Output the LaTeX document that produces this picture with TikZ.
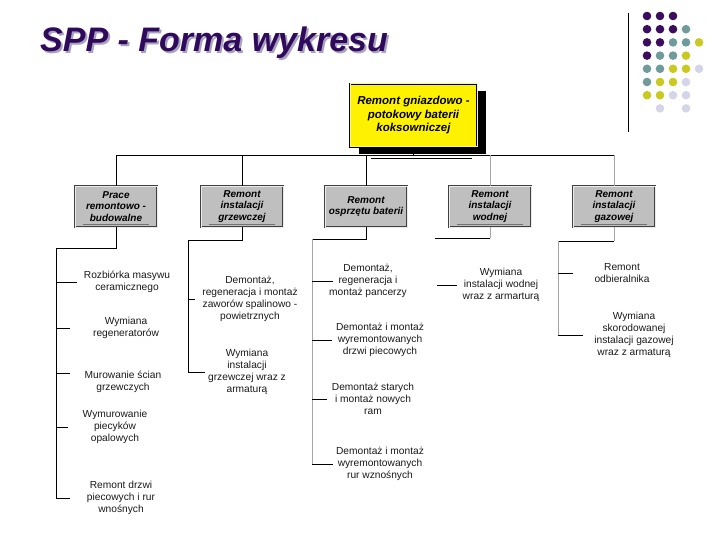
\documentclass[tikz,border=0pt]{standalone}
\usepackage{fontspec}
\setmainfont{Liberation Sans}
\usetikzlibrary{shadows, calc}

\definecolor{titlepurple}{HTML}{2F0A5C}
\definecolor{titleshade}{HTML}{A8A2C0}
\definecolor{dotpurple}{HTML}{3C0C5E}
\definecolor{dotteal}{HTML}{6F9B9B}
\definecolor{dotyellow}{HTML}{C9C91F}
\definecolor{dotlav}{HTML}{D5D5EA}

\begin{document}
\begin{tikzpicture}[
    x=1pt, y=-1pt,
    topbox/.style={
        rectangle,
        draw=black,
        line width=0.6pt,
        double=yellow!50!white,
        double distance=1pt,
        fill=yellow,
        minimum width=127pt,
        minimum height=63pt,
        align=center,
        font=\fontsize{11.5}{13.5}\selectfont\bfseries\itshape,
        drop shadow={shadow xshift=9pt, shadow yshift=-7pt, fill=black, opacity=1}
    },
    groupbox/.style={
        rectangle,
        draw=black!75,
        line width=0.5pt,
        double=black!8,
        double distance=0.8pt,
        fill=black!25,
        minimum width=82pt,
        minimum height=41pt,
        align=center,
        inner sep=1pt,
        font=\fontsize{10}{11.5}\selectfont\bfseries\itshape
    },
    task/.style={
        align=center,
        inner sep=1pt,
        text=black!90,
        font=\fontsize{10.2}{11.8}\selectfont
    },
    link/.style={line width=0.7pt, black},
    greylink/.style={line width=0.7pt, black!35},
    underbar/.style={line width=0.6pt, black!55},
    dot/.style={circle, fill=#1, inner sep=0pt, minimum size=8.6pt}
]
\useasboundingbox (0,0) rectangle (720,540);

% Title with its shade
\node[anchor=base west, inner sep=0pt, text=titleshade, font=\fontsize{34}{40}\selectfont\bfseries\itshape] (titleshadow) at (42,54) {SPP - Forma wykresu};
\node[anchor=base west, inner sep=0pt, text=titlepurple, font=\fontsize{34}{40}\selectfont\bfseries\itshape] (title) at (40,52) {SPP - Forma wykresu};

% Logo: rule and dot grid
\coordinate (ruletop) at (628,13);
\coordinate (rulebot) at (628,132);
\draw[line width=0.8pt] (ruletop) -- (rulebot);
\foreach \r/\row in {
    0/{0/dotpurple,1/dotpurple,2/dotpurple},
    1/{0/dotpurple,1/dotpurple,2/dotpurple,3/dotteal},
    2/{0/dotpurple,1/dotpurple,2/dotteal,3/dotteal,4/dotyellow},
    3/{0/dotpurple,1/dotteal,2/dotteal,3/dotyellow},
    4/{0/dotteal,1/dotteal,2/dotyellow,3/dotyellow,4/dotlav},
    5/{0/dotteal,1/dotyellow,2/dotyellow,3/dotlav},
    6/{0/dotyellow,1/dotyellow,2/dotlav,3/dotlav},
    7/{1/dotlav,3/dotlav}}
    \foreach \c/\col in \row
        \node[dot=\col] (dot-\r-\c) at (647+13*\c, 16+13.2*\r) {};

% Top node
\node[topbox] (top) at (413.5,115.5) {Remont gniazdowo -\\potokowy baterii\\koksowniczej};

% Second level
\node[groupbox] (b1) at (116,206.5) {Prace\\remontowo -\\budowalne};
\node[groupbox] (b2) at (242,206.5) {Remont\\instalacji\\grzewczej};
\node[groupbox] (b3) at (366,206.5) {Remont\\osprzętu baterii};
\node[groupbox] (b4) at (490,206.5) {Remont\\instalacji\\wodnej};
\node[groupbox] (b5) at (614,206.5) {Remont\\instalacji\\gazowej};

% Underlines inside the boxes
\foreach \b in {b1,b2,b4,b5}
    \draw[underbar] ($(\b.south west)+(8,-3)$) -- ($(\b.south east)+(-8,-3)$);

% Bus between top node and second level
\coordinate (bus) at (413.5,155);
\coordinate (busdup) at (371,158);
\draw[link] (top.south) -- (bus);
\draw[link] (b1.north |- bus) -- (b5.north |- bus);
\draw[link] (busdup) -- ++(101,0);
\foreach \b in {b1,b2,b3}
    \draw[link] (\b.north |- bus) -- (\b.north);
\foreach \b in {b4,b5}
    \draw[greylink] (\b.north |- bus) -- (\b.north);

% Column 1
\node[task] (i11) at (127,282) {Rozbiórka masywu\\ceramicznego};
\node[task] (i12) at (126,328) {Wymiana\\regeneratorów};
\node[task] (i13) at (123,382) {Murowanie ścian\\grzewczych};
\node[task] (i14) at (115,427) {Wymurowanie\\piecyków\\opalowych};
\node[task] (i15) at (121,498) {Remont drzwi\\piecowych i rur\\wnośnych};
\coordinate (c1) at (56,248);
\draw[link] (b1.south) |- (c1) -- (c1 |- i15);
\draw[link] (c1 |- i11) -- ++(21,0);
\draw[link] (c1 |- i12) -- ++(14,0);
\draw[link] ([yshift=9pt]c1 |- i13) -- ++(14,0);
\draw[link] (c1 |- i14) -- ++(12,0);
\draw[link] (c1 |- i15) -- ++(14,0);

% Column 2
\node[task] (i21) at (250,299) {Demontaż,\\regeneracja i montaż\\zaworów spalinowo -\\powietrznych};
\node[task] (i22) at (247,372) {Wymiana\\instalacji\\grzewczej wraz z\\armaturą};
\coordinate (c2) at (188,240);
\draw[link] (b2.south) |- (c2) -- (c2 |- i22);
\draw[link] (c2 |- i21) -- ++(7,0);
\draw[link] (c2 |- i22) -- ++(17,0);

% Column 3
\node[task] (i31) at (368,281) {Demontaż,\\regeneracja i\\montaż pancerzy};
\node[task] (i32) at (380,340) {Demontaż i montaż\\wyremontowanych\\drzwi piecowych};
\node[task] (i33) at (373,399) {Demontaż starych\\i montaż nowych\\ram};
\node[task] (i34) at (380,464) {Demontaż i montaż\\wyremontowanych\\rur wznośnych};
\coordinate (c3) at (312,239);
\draw[link] (b3.south) |- (c3);
\draw[greylink] (c3) -- (c3 |- i34);
\draw[link] (c3 |- i31) -- ++(21,0);
\draw[link] (c3 |- i32) -- ++(20,0);
\draw[link] (c3 |- i33) -- ++(15,0);
\draw[link] (c3 |- i34) -- ++(21,0);

% Column 4
\node[task] (i41) at (501,285) {Wymiana\\instalacji wodnej\\wraz z armarturą};
\coordinate (c4) at (435,238);
\draw[greylink] (b4.south) -- (b4.south |- c4);
\draw[link] (b4.south |- c4) -- (c4);
\draw[link] ([xshift=2pt]c4 |- i41) -- ++(20,0);

% Column 5
\node[task] (i51) at (622,273) {Remont\\odbieralnika};
\node[task] (i52) at (634,335) {Wymiana\\skorodowanej\\instalacji gazowej\\wraz z armaturą};
\coordinate (c5) at (558,241);
\draw[greylink] (b5.south) -- (b5.south |- c5);
\draw[link] (b5.south |- c5) -- (c5);
\draw[greylink] (c5) -- (c5 |- i52);
\draw[link] (c5 |- i51) -- ++(15,0);
\draw[link] (c5 |- i52) -- ++(25,0);

\end{tikzpicture}
\end{document}
